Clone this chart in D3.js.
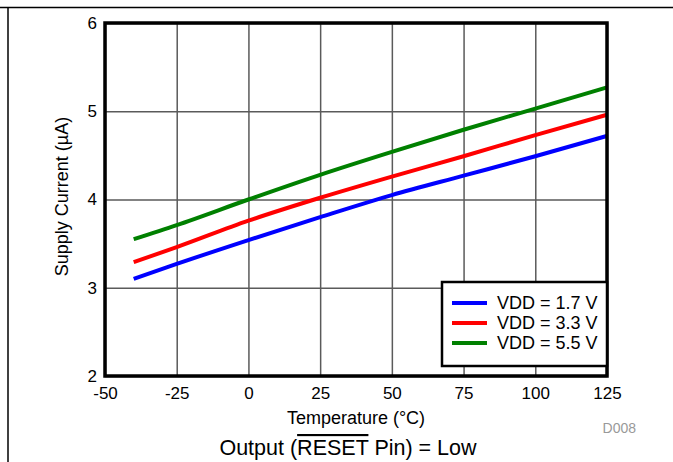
<!DOCTYPE html>
<html>
<head>
<meta charset="utf-8">
<script src="https://cdn.jsdelivr.net/npm/d3@7"></script>
<style>
  body { margin: 0; background: #fff; }
  svg { display: block; font-family: "Liberation Sans", Arial, sans-serif; }
</style>
</head>
<body>
<svg id="chart" width="673" height="462"></svg>
<script>
// temperature (°C) sample points
const temps = [-40, -25, 0, 25, 50, 75, 100, 125];
// supply current (µA) per VDD
const vdd17 = [3.10, 3.27, 3.54, 3.80, 4.05, 4.27, 4.49, 4.72];
const vdd33 = [3.29, 3.46, 3.76, 4.02, 4.26, 4.49, 4.73, 4.96];
const vdd55 = [3.55, 3.71, 4.00, 4.28, 4.54, 4.79, 5.03, 5.27];
const seriesNames = ["VDD = 1.7 V", "VDD = 3.3 V", "VDD = 5.5 V"];
const seriesColors = ["#0000ff", "#ff0000", "#008000"];
const xTicks = [-50, -25, 0, 25, 50, 75, 100, 125];
const yTicks = [2, 3, 4, 5, 6];

const svg = d3.select("#chart");
const W = 673, H = 462;
const m = { left: 105, right: 66, top: 23, bottom: 86 };
const pw = W - m.left - m.right, ph = H - m.top - m.bottom;

// outer frame fragments
svg.append("line").attr("x1", 0).attr("x2", W).attr("y1", 7.5).attr("y2", 7.5)
  .attr("stroke", "#000").attr("stroke-width", 1.5);
svg.append("line").attr("x1", 8).attr("x2", 8).attr("y1", 7).attr("y2", H)
  .attr("stroke", "#000").attr("stroke-width", 1.5);

const g = svg.append("g").attr("transform", `translate(${m.left},${m.top})`);

const x = d3.scaleLinear().domain([-50, 125]).range([0, pw]);
const y = d3.scaleLinear().domain([2, 6]).range([ph, 0]);

// grid
const xGrid = g.append("g").call(d3.axisBottom(x).tickValues(xTicks).tickSize(-ph).tickFormat(""))
  .attr("transform", `translate(0,${ph})`);
const yGrid = g.append("g").call(d3.axisLeft(y).tickValues(yTicks).tickSize(-pw).tickFormat(""));
[xGrid, yGrid].forEach(a => {
  a.select(".domain").remove();
  a.selectAll("line").attr("stroke", "#5a5a5a").attr("stroke-width", 1.5);
});

// tick labels (plain hyphen for negatives)
const fmt = d => String(d);
const xAx = g.append("g").attr("transform", `translate(0,${ph})`)
  .call(d3.axisBottom(x).tickValues(xTicks).tickSize(0).tickPadding(10).tickFormat(fmt));
const yAx = g.append("g")
  .call(d3.axisLeft(y).tickValues(yTicks).tickSize(0).tickPadding(8).tickFormat(fmt));
[xAx, yAx].forEach(a => {
  a.select(".domain").remove();
  a.selectAll("text").attr("font-size", 17).attr("fill", "#000")
    .attr("font-family", "Liberation Sans, Arial, sans-serif");
});
xAx.selectAll("text").attr("dy", "0.75em");

// series
const series = [vdd17, vdd33, vdd55];
const line = d3.line().x((d, i) => x(temps[i])).y(d => y(d)).curve(d3.curveMonotoneX);
g.selectAll(".series").data(series).join("path")
  .attr("class", "series")
  .attr("d", line)
  .attr("fill", "none")
  .attr("stroke", (d, i) => seriesColors[i])
  .attr("stroke-width", 4);

// plot border
g.append("rect").attr("width", pw).attr("height", ph)
  .attr("fill", "none").attr("stroke", "#000").attr("stroke-width", 3.5);

// legend
const lg = g.append("g").attr("transform", `translate(${pw - 165},${ph - 94})`);
lg.append("rect").attr("width", 165).attr("height", 84)
  .attr("fill", "#fff").attr("stroke", "#000").attr("stroke-width", 2.5);
seriesNames.forEach((name, i) => {
  const ly = 21 + i * 20;
  lg.append("line").attr("x1", 10).attr("x2", 45).attr("y1", ly).attr("y2", ly)
    .attr("stroke", seriesColors[i]).attr("stroke-width", 4);
  lg.append("text").attr("x", 55).attr("y", ly).attr("dy", "0.36em")
    .attr("font-size", 18).text(name);
});

// axis titles
svg.append("text").attr("x", m.left + pw / 2).attr("y", 424)
  .attr("text-anchor", "middle").attr("font-size", 18).text("Temperature (°C)");
svg.append("text").attr("transform", `translate(68,${m.top + ph / 2 - 3}) rotate(-90)`)
  .attr("text-anchor", "middle").attr("font-size", 18).text("Supply Current (µA)");

// footnote id
svg.append("text").attr("x", 636).attr("y", 433).attr("text-anchor", "end")
  .attr("font-size", 14).attr("fill", "#999").text("D008");

// caption with overline on RESET
const cap = svg.append("text").attr("x", 348).attr("y", 455)
  .attr("text-anchor", "middle").attr("font-size", 21.5);
cap.append("tspan").text("Output (");
cap.append("tspan").attr("text-decoration", "overline").text("RESET");
cap.append("tspan").text(" Pin) = Low");
</script>
</body>
</html>
